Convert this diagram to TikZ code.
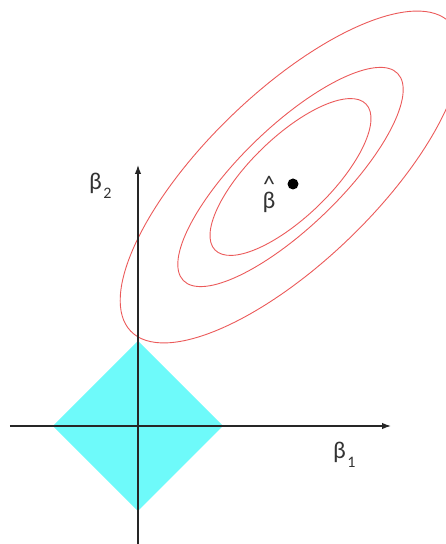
\documentclass[tikz,border=0pt]{standalone}
\usepackage{fontspec}
\setmainfont{Carlito}
\usetikzlibrary{arrows.meta}
\definecolor{lassocyan}{RGB}{110,250,250}
\definecolor{contourred}{RGB}{235,90,90}
\newcommand{\betasub}[1]{β\kern1.5pt\raisebox{-9pt}{\fontsize{16}{16}\selectfont #1}}

\begin{document}
\begin{tikzpicture}[x=1pt,y=1pt,>={Latex[length=9pt,width=6.5pt]},axis/.style={->,line width=1.3pt,black!85},contour/.style={contourred,line width=0.9pt},region/.style={fill=lassocyan},label/.style={font=\fontsize{24}{26}\selectfont,text=black!80},point/.style={circle,fill=black,inner sep=0pt,minimum size=11pt}]
\useasboundingbox (-138,-118) rectangle (308,426); \clip (-138,-118) rectangle (308,426);
\coordinate (W) at (-128,0); \coordinate (E) at (253,0); \coordinate (S) at (0,-120); \coordinate (N) at (0,261);
\coordinate (L) at (-85,0); \coordinate (T) at (0,85); \coordinate (R) at (85,0); \coordinate (B) at (0,-85);
\coordinate (C) at (152.5,249);
% constraint region
\fill[region] (L)--(T)--(R)--(B)--cycle;
% contours of the loss
\draw[contour,rotate around={44:(C)}] (C) ellipse [x radius=105,y radius=40];
\draw[contour,rotate around={44:(C)}] (C) ellipse [x radius=149,y radius=50];
\draw[contour,rotate around={44:(C)}] (C) ellipse [x radius=222,y radius=85];
\draw[axis] (W)--(E); \draw[axis] (S)--(N);
\node[point] (bhatpt) at (155,242) {};
\node[label,align=center,inner sep=0pt,anchor=north] (bhat) at (131,250) {\textasciicircum\\[-10pt]β};
\node[label,inner sep=0pt,anchor=north west] (beta1) at (195,-16) {\betasub{1}};
\node[label,inner sep=0pt,anchor=north west] (beta2) at (-49,253) {\betasub{2}};
\end{tikzpicture}
\end{document}
